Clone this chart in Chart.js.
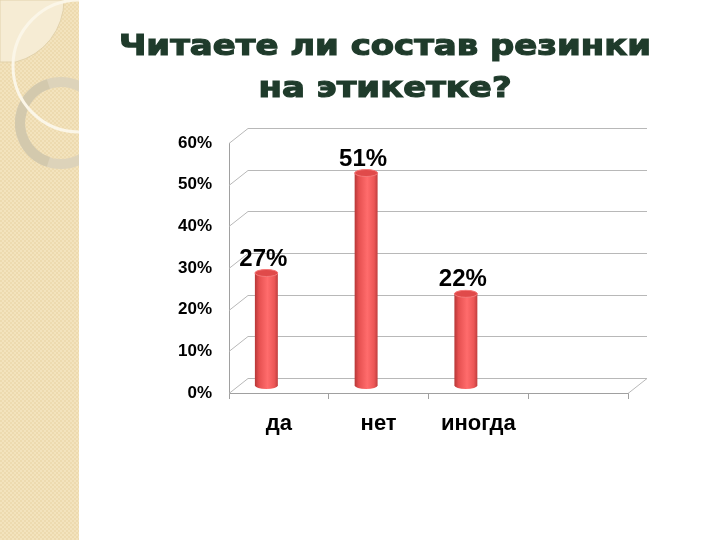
<!DOCTYPE html>
<html><head><meta charset="utf-8">
<script src="https://cdn.jsdelivr.net/npm/chart.js@4"></script>
<style>html,body{margin:0;padding:0;background:#fff;}#wrap{width:720px;height:540px;position:relative;}</style>
</head><body><div id="wrap"><canvas id="c" width="720" height="540"></canvas></div>
<script>
const titleLines = ['Читаете ли состав резинки', 'на этикетке?'];
const categories = ['да', 'нет', 'иногда', ''];
const values = [27, 51, 22, null];
const valueLabels = ['27%', '51%', '22%', ''];
const yMin = 0, yMax = 60, yStep = 10;

const DX = 19, DY = 15;          // depth of back wall
const BX = -12.5, BY = -7.5;     // bar plane offset

const panelPlugin = {
  id: 'panel',
  beforeDraw(chart) {
    const ctx = chart.ctx;
    ctx.save();
    const pc = document.createElement('canvas'); pc.width = 4; pc.height = 4;
    const p = pc.getContext('2d');
    p.fillStyle = '#f3e3bd'; p.fillRect(0, 0, 4, 4);
    p.fillStyle = '#eddaaf'; p.fillRect(0, 0, 2, 2); p.fillRect(2, 2, 2, 2);
    ctx.fillStyle = ctx.createPattern(pc, 'repeat');
    ctx.fillRect(0, 0, 79, 540);
    ctx.beginPath(); ctx.rect(0, 0, 79, 540); ctx.clip();
    ctx.beginPath(); ctx.moveTo(0, 0); ctx.lineTo(64, 0);
    ctx.arc(0, 0, 64, 0, Math.asin(62 / 64)); ctx.lineTo(0, 62); ctx.closePath();
    ctx.fillStyle = '#f6ecd4'; ctx.fill();
    ctx.strokeStyle = '#e2d2ab'; ctx.lineWidth = 1; ctx.stroke();
    ctx.beginPath(); ctx.arc(61, 123, 41, 0, Math.PI * 2);
    ctx.strokeStyle = '#ddd3ba'; ctx.lineWidth = 10; ctx.stroke();
    ctx.beginPath(); ctx.arc(61, 123, 41, Math.PI * 0.6, Math.PI * 1.4);
    ctx.strokeStyle = '#d3c9ad'; ctx.lineWidth = 10; ctx.stroke();
    ctx.beginPath(); ctx.arc(79, 66, 66, 0, Math.PI * 2);
    ctx.strokeStyle = '#fbf6e8'; ctx.lineWidth = 3; ctx.stroke();
    ctx.restore();
  }
};

const titlePlugin = {
  id: 'bigTitle',
  afterDraw(chart) {
    const ctx = chart.ctx;
    ctx.save();
    ctx.fillStyle = '#1f3b2b'; ctx.strokeStyle = '#1f3b2b'; ctx.lineWidth = 1.2;
    ctx.font = 'bold 29px "DejaVu Sans", sans-serif';
    ctx.textAlign = 'center'; ctx.textBaseline = 'middle';
    const ys = [47, 89];
    titleLines.forEach((t, i) => {
      ctx.save();
      ctx.translate(385, ys[i]);
      ctx.scale(1.17, 1);
      ctx.fillText(t, 0, 0);
      ctx.strokeText(t, 0, 0);
      ctx.restore();
    });
    ctx.restore();
  }
};

const wallsPlugin = {
  id: 'walls',
  beforeDatasetsDraw(chart) {
    const ctx = chart.ctx, a = chart.chartArea, y = chart.scales.y;
    ctx.save();
    ctx.lineWidth = 1;
    ctx.strokeStyle = '#b8b8b8';
    for (let v = yMin; v <= yMax; v += yStep) {
      const py = Math.round(y.getPixelForValue(v)) + 0.5;
      ctx.beginPath();
      ctx.moveTo(a.left, py);
      ctx.lineTo(a.left + DX, py - DY);
      ctx.lineTo(a.right + DX, py - DY);
      ctx.stroke();
    }
    const py0 = Math.round(y.getPixelForValue(yMin)) + 0.5;
    ctx.beginPath();
    ctx.moveTo(a.right, py0); ctx.lineTo(a.right + DX, py0 - DY);
    ctx.stroke();
    ctx.restore();
  }
};

function cylinder(ctx, cx, top, bottom, w) {
  const rx = w / 2, ry = 3.5;
  const g = ctx.createLinearGradient(cx - rx, 0, cx + rx, 0);
  g.addColorStop(0, '#b63737');
  g.addColorStop(0.18, '#e65050');
  g.addColorStop(0.55, '#ff6c6c');
  g.addColorStop(0.85, '#ec5656');
  g.addColorStop(1, '#bf3e3e');
  ctx.beginPath();
  ctx.moveTo(cx - rx, top);
  ctx.lineTo(cx - rx, bottom);
  ctx.ellipse(cx, bottom, rx, ry, 0, Math.PI, 0, true);
  ctx.lineTo(cx + rx, top);
  ctx.ellipse(cx, top, rx, ry, 0, 0, Math.PI, true);
  ctx.closePath();
  ctx.fillStyle = g; ctx.fill();
  ctx.beginPath();
  ctx.ellipse(cx, top, rx, ry, 0, 0, Math.PI * 2);
  ctx.fillStyle = '#e04a4a'; ctx.fill();
  ctx.strokeStyle = '#f47a7a'; ctx.lineWidth = 1; ctx.stroke();
}

const barsPlugin = {
  id: 'cyl',
  afterDatasetsDraw(chart) {
    const ctx = chart.ctx;
    const meta = chart.getDatasetMeta(0);
    ctx.save();
    meta.data.forEach((bar, i) => {
      if (values[i] == null) return;
      const cx = bar.x + BX, top = bar.y + BY, bottom = bar.base + BY;
      cylinder(ctx, cx, top, bottom, bar.width);
      ctx.fillStyle = '#000';
      ctx.font = 'bold 24px "Liberation Sans", Arial, sans-serif';
      ctx.textAlign = 'center'; ctx.textBaseline = 'middle';
      ctx.fillText(valueLabels[i], cx - 3, top - 14);
    });
    ctx.restore();
  }
};

new Chart(document.getElementById('c'), {
  type: 'bar',
  data: {
    labels: categories,
    datasets: [{ data: values, backgroundColor: 'rgba(0,0,0,0)', borderWidth: 0,
      categoryPercentage: 1, barPercentage: 0.23 }]
  },
  options: {
    responsive: false, animation: false,
    layout: { padding: { left: 142, right: 92, top: 143, bottom: 97 } },
    plugins: {
      legend: { display: false }, tooltip: { enabled: false },
      title: { display: false }
    },
    scales: {
      x: {
        offset: true,
        grid: { display: true, drawOnChartArea: false, offset: true, tickLength: 6, color: '#a0a0a0' },
        border: { display: true, color: '#a0a0a0' },
        ticks: { color: '#000', font: { family: '"Liberation Sans", Arial, sans-serif', weight: 'bold', size: 22 }, padding: 12 },
        afterFit(s) { s.height = 50; }
      },
      y: {
        min: yMin, max: yMax,
        grid: { display: false, drawTicks: false },
        border: { display: true, color: '#a0a0a0' },
        ticks: { stepSize: yStep, padding: 17, color: '#000',
          font: { family: '"Liberation Sans", Arial, sans-serif', weight: 'bold', size: 17 },
          callback: v => v + '%' },
        afterFit(s) { s.width = 87; }
      }
    }
  },
  plugins: [panelPlugin, wallsPlugin, barsPlugin, titlePlugin]
});
</script></body></html>
